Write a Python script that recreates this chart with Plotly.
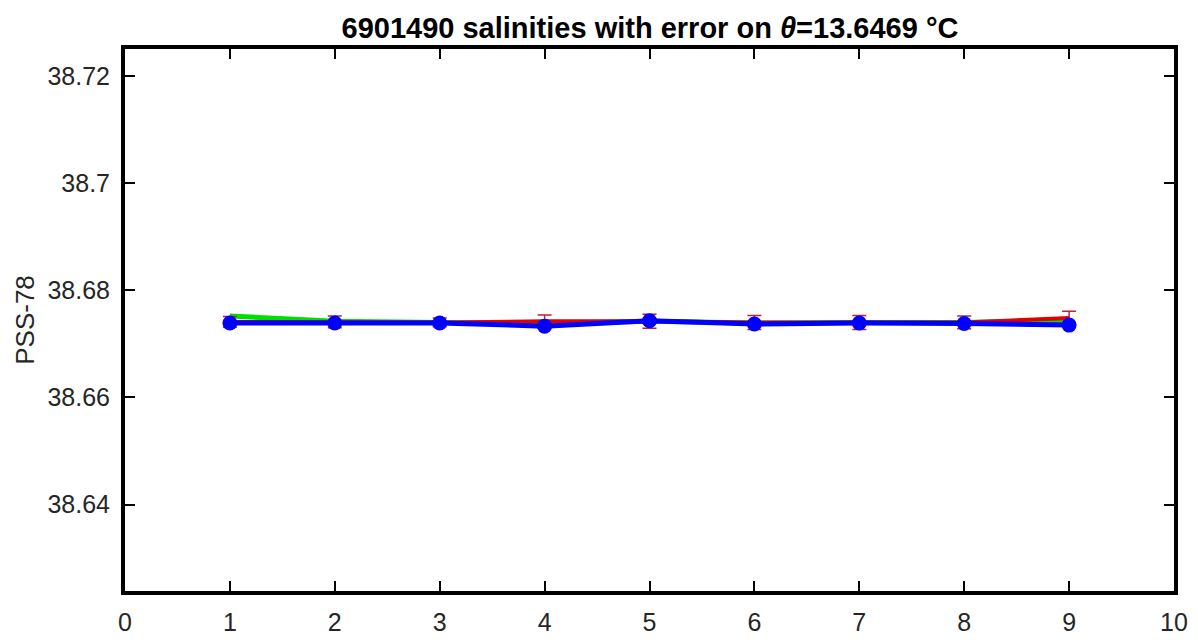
import plotly.graph_objects as go

profiles = [1, 2, 3, 4, 5, 6, 7, 8, 9]
sal_green = [38.6752, 38.6742, 38.6740, 38.6738, 38.6742, 38.6739, 38.6740, 38.6740, 38.6744]
sal_red = [38.6741, 38.6741, 38.6740, 38.6742, 38.6742, 38.6740, 38.6740, 38.6740, 38.6748]
err_red = [0.0010, 0.0011, 0.0008, 0.0012, 0.0013, 0.0013, 0.0013, 0.0012, 0.0013]
sal_blue = [38.6739, 38.6739, 38.6739, 38.6733, 38.6743, 38.6737, 38.6739, 38.6738, 38.6735]

x_ticks = list(range(0, 11))
y_ticks = [38.64, 38.66, 38.68, 38.70, 38.72]
y_ticklabels = ["38.64", "38.66", "38.68", "38.7", "38.72"]

FONT = "Liberation Sans, Arial, sans-serif"

fig = go.Figure()
fig.add_trace(go.Scatter(x=profiles, y=sal_green, mode="lines",
                         line=dict(color="#00e000", width=5), showlegend=False))
fig.add_trace(go.Scatter(x=profiles, y=sal_red, mode="lines",
                         line=dict(color="#e00000", width=4),
                         error_y=dict(type="data", array=err_red, color="#c0203a",
                                      thickness=1.5, width=7),
                         showlegend=False))
fig.add_trace(go.Scatter(x=profiles, y=sal_blue, mode="lines+markers",
                         line=dict(color="#0000ff", width=5),
                         marker=dict(color="#0000ff", size=15),
                         showlegend=False))

axis_common = dict(showline=True, linecolor="black", linewidth=4, mirror="ticks",
                   ticks="inside", ticklen=10, tickwidth=2, tickcolor="black",
                   showgrid=False, zeroline=False, ticklabelstandoff=6,
                   tickfont=dict(family=FONT, size=25, color="#262626"))

fig.update_layout(
    width=1198, height=640,
    margin=dict(l=117, r=32, t=41, b=53),
    paper_bgcolor="white", plot_bgcolor="white",
    font=dict(family=FONT, size=25, color="#262626"),
    title=dict(text="<b>6901490 salinities with error on <i>θ</i>=13.6469 °C</b>",
               x=642 / 1198, xanchor="center", xref="container",
               y=1 - 20 / 640, yanchor="middle", yref="container",
               font=dict(family=FONT, size=29, color="black")),
    xaxis=dict(range=[0, 10], tickvals=x_ticks, **axis_common),
    yaxis=dict(range=[38.6239, 38.7250], tickvals=y_ticks, ticktext=y_ticklabels,
               title=dict(text="PSS-78", font=dict(family=FONT, size=26, color="#262626"),
                          standoff=6),
               **axis_common),
)

fig.write_html("out.html")
